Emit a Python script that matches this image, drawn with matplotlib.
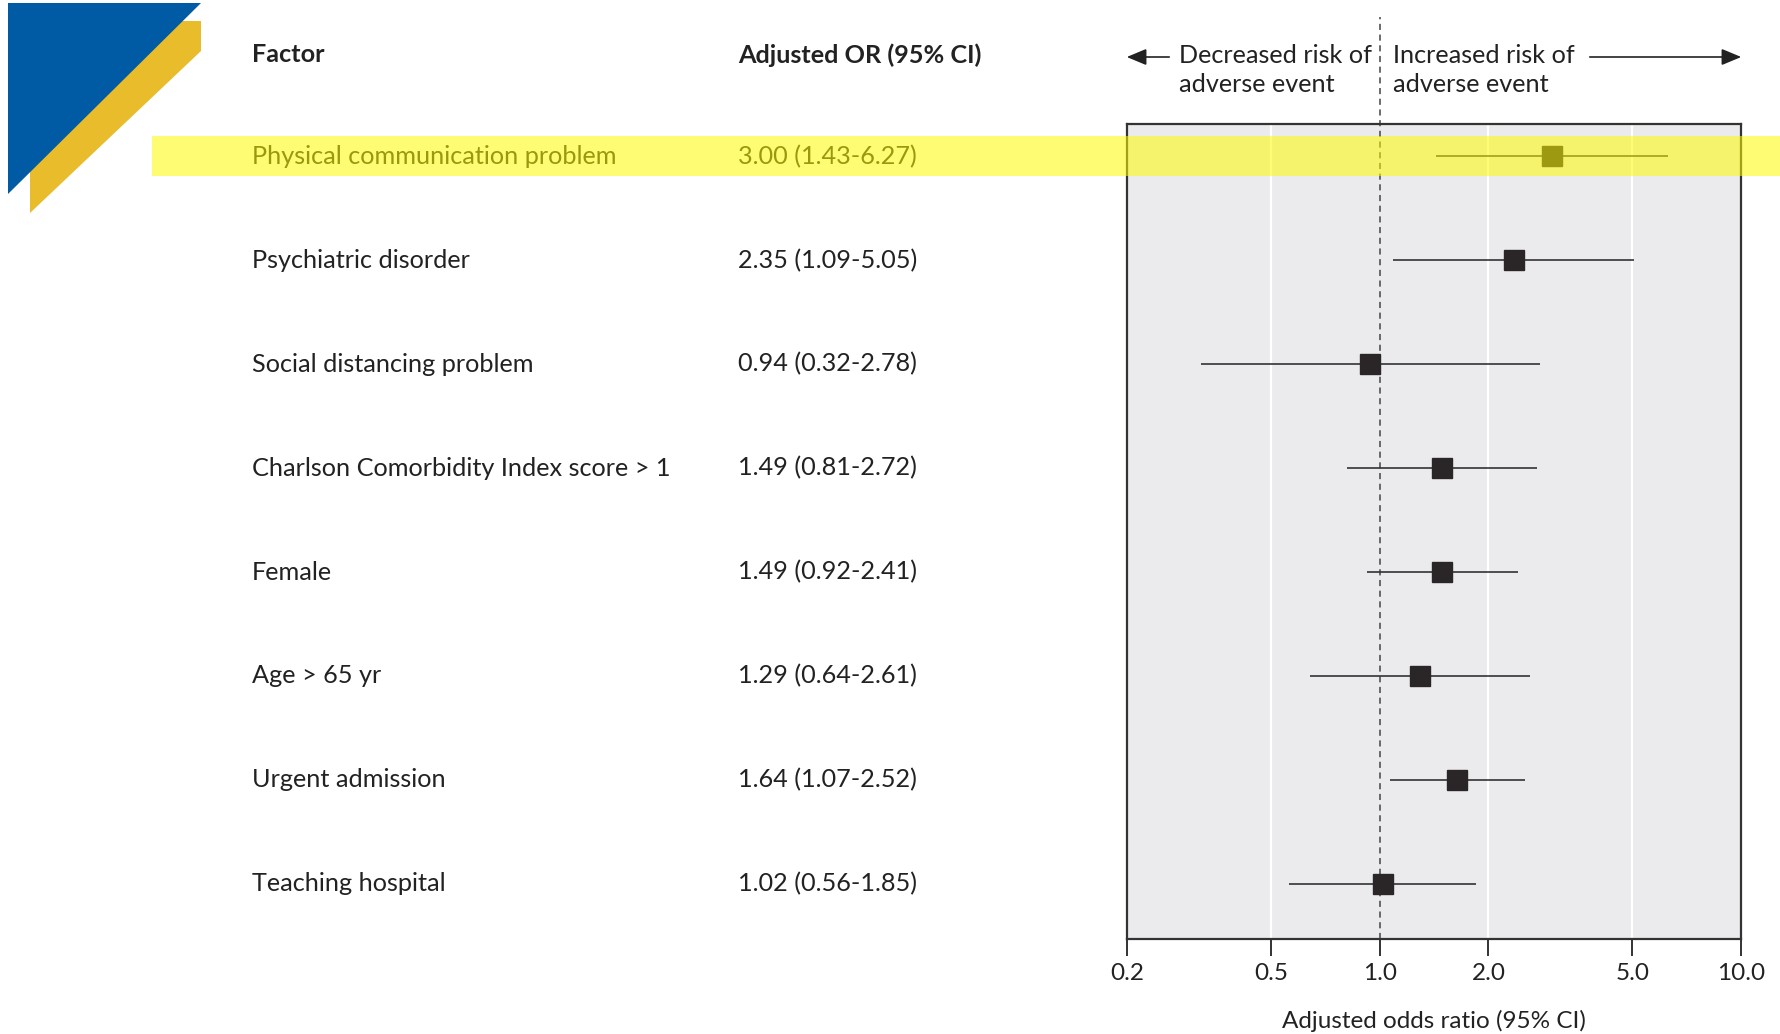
import numpy as np
import matplotlib
matplotlib.use("Agg")
import matplotlib.pyplot as plt
import matplotlib.transforms as mtransforms
from matplotlib.patches import Rectangle, Polygon, FancyArrowPatch

plt.rcParams["font.family"] = ["Lato", "DejaVu Sans"]

factors = [
    "Physical communication problem",
    "Psychiatric disorder",
    "Social distancing problem",
    "Charlson Comorbidity Index score > 1",
    "Female",
    "Age > 65 yr",
    "Urgent admission",
    "Teaching hospital",
]
odds = [3.00, 2.35, 0.94, 1.49, 1.49, 1.29, 1.64, 1.02]
ci_low = [1.43, 1.09, 0.32, 0.81, 0.92, 0.64, 1.07, 0.56]
ci_high = [6.27, 5.05, 2.78, 2.72, 2.41, 2.61, 2.52, 1.85]
xticks = [0.2, 0.5, 1.0, 2.0, 5.0, 10.0]
xtick_labels = ["0.2", "0.5", "1.0", "2.0", "5.0", "10.0"]

W, H = 1781, 1034
fig = plt.figure(figsize=(W / 100, H / 100), dpi=100)
FS = 18.2
TXT = "#222222"


def fx(px):
    return px / W


def fy(py):
    return 1 - py / H


# axes box
ax = fig.add_axes([fx(1127), fy(939), fx(1741) - fx(1127), fy(124) - fy(939)])
ax.set_facecolor("#ebebee")
ax.set_xscale("log")
ax.set_xlim(0.2, 10.0)
ax.set_ylim(7.53, -0.31)
ax.set_xticks(xticks)
ax.set_xticklabels(xtick_labels)
ax.xaxis.set_minor_locator(matplotlib.ticker.NullLocator())
ax.set_yticks([])
ax.tick_params(axis="x", direction="out", length=12, width=1.4, color="#333333",
               labelsize=17.5, labelcolor=TXT, pad=5)
for s in ax.spines.values():
    s.set_color("#333333")
    s.set_linewidth(1.6)

for g in [0.5, 2.0, 5.0]:
    ax.axvline(g, color="white", lw=1.6, zorder=1)
ax.axvline(1.0, ymin=0, ymax=(939 - 17) / (939 - 124), color="#444444", lw=1.1,
           ls=(0, (4, 3)), clip_on=False, zorder=2)

ypos = np.arange(len(factors))
ax.hlines(ypos, ci_low, ci_high, color="#333333", lw=1.2, zorder=3)
ax.plot(odds, ypos, "s", color="#2a2627", markersize=14, zorder=4)

ax.set_xlabel("Adjusted odds ratio (95% CI)", fontsize=17.5, color=TXT, labelpad=19)

# table text
tr = mtransforms.blended_transform_factory(fig.transFigure, ax.transData)
for i, (name, o, lo, hi) in enumerate(zip(factors, odds, ci_low, ci_high)):
    fig.text(fx(252), i, name, transform=tr, fontsize=FS, va="center", color=TXT)
    fig.text(fx(738), i, f"{o:.2f} ({lo:.2f}-{hi:.2f})", transform=tr, fontsize=FS,
             va="center", color=TXT)

fig.text(fx(252), fy(55), "Factor", fontsize=FS, fontweight="bold", va="center", color=TXT)
fig.text(fx(738), fy(55), "Adjusted OR (95% CI)", fontsize=FS, fontweight="bold",
         va="center", color=TXT)

# direction labels
fig.text(fx(1179), fy(70), "Decreased risk of\nadverse event", fontsize=FS, va="center",
         color=TXT, linespacing=1.3)
fig.text(fx(1393), fy(70), "Increased risk of\nadverse event", fontsize=FS, va="center",
         color=TXT, linespacing=1.3)
for start, end in [((1172, 57), (1124, 57)), ((1587, 57), (1744, 57))]:
    fig.add_artist(FancyArrowPatch(
        (fx(start[0]), fy(start[1])), (fx(end[0]), fy(end[1])), transform=fig.transFigure,
        arrowstyle="-|>,head_length=0.6,head_width=0.25", mutation_scale=20,
        color=TXT, lw=1.2))

# highlight band over first row
band = Rectangle((fx(152), -0.19), 1 - fx(152), 0.38, transform=tr,
                 facecolor=(0.99, 0.98, 0.0), alpha=0.55, edgecolor="none", zorder=10)
fig.add_artist(band)

# corner logo
yellow = Polygon([(fx(160), fy(21)), (fx(201), fy(21)), (fx(201), fy(51)),
                  (fx(30), fy(213)), (fx(30), fy(140))],
                 closed=True, transform=fig.transFigure, facecolor="#e8bc2a",
                 edgecolor="none", zorder=11)
blue = Polygon([(fx(8), fy(3)), (fx(201), fy(3)), (fx(8), fy(194))],
               closed=True, transform=fig.transFigure, facecolor="#005ba4",
               edgecolor="none", zorder=12)
fig.add_artist(yellow)
fig.add_artist(blue)

fig.savefig("out.png", dpi=100)
